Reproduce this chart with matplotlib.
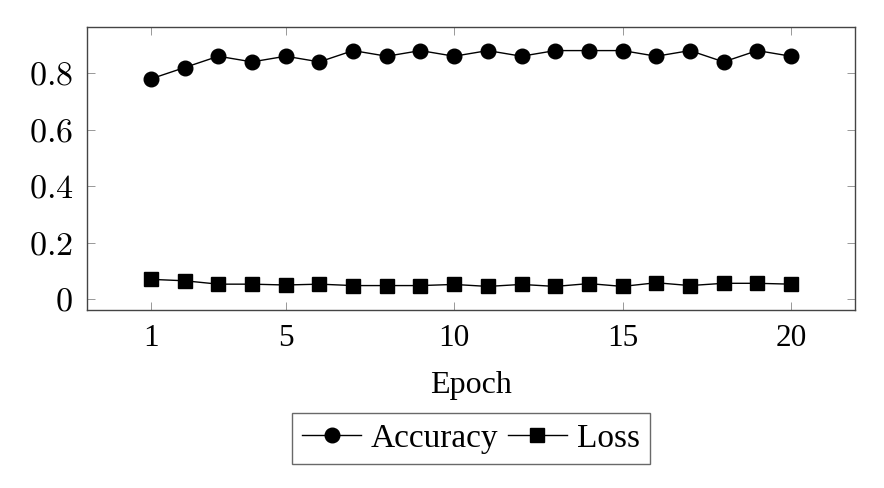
import matplotlib
matplotlib.use("Agg")
import matplotlib.pyplot as plt

plt.rcParams['font.family'] = ['Liberation Serif', 'DejaVu Serif']
plt.rcParams['mathtext.fontset'] = 'cm'

epochs = list(range(1, 21))
accuracy = [0.78, 0.82, 0.86, 0.84, 0.86, 0.84, 0.88, 0.86, 0.88, 0.86,
            0.88, 0.86, 0.88, 0.88, 0.88, 0.86, 0.88, 0.84, 0.88, 0.86]
loss = [0.070, 0.065, 0.053, 0.053, 0.050, 0.053, 0.048, 0.048, 0.048, 0.052,
        0.045, 0.052, 0.045, 0.055, 0.045, 0.058, 0.048, 0.056, 0.056, 0.053]
xticks = [1, 5, 10, 15, 20]
yticks = [0, 0.2, 0.4, 0.6, 0.8]
ytick_labels = ["$0$", "$0.2$", "$0.4$", "$0.6$", "$0.8$"]

fig = plt.figure(figsize=(8.84, 4.88), dpi=100)
ax = fig.add_axes([87/884, 1-310/488, (855-87)/884, (310-27)/488])

ax.plot(epochs, accuracy, color='black', lw=1.0, marker='o', ms=10.5, label='Accuracy')
ax.plot(epochs, loss, color='black', lw=1.0, marker='s', ms=10.5, label='Loss')

ax.set_xlim(-0.9, 21.9)
ax.set_ylim(-0.0385, 0.9635)
ax.set_xticks(xticks)
ax.set_yticks(yticks)
ax.set_yticklabels(ytick_labels)
ax.tick_params(direction='in', top=True, right=True, length=6, width=0.6,
               color='#888888')
ax.tick_params(axis='x', labelsize=22.5, pad=10)
ax.tick_params(axis='y', labelsize=24.5, pad=10)
for s in ax.spines.values():
    s.set_color('#444444')
    s.set_linewidth(1.0)
ax.set_xlabel('Epoch', fontsize=23, labelpad=13)

leg = fig.legend(loc='center', bbox_to_anchor=(471/884, 1-438.5/488), ncol=2,
                 fontsize=24, frameon=True, fancybox=False, edgecolor='#444444',
                 handlelength=1.75, handletextpad=0.3, columnspacing=0.3,
                 borderpad=0.3, markerscale=1.0)
leg.get_frame().set_linewidth(1.0)

fig.savefig('out.png', dpi=100)
